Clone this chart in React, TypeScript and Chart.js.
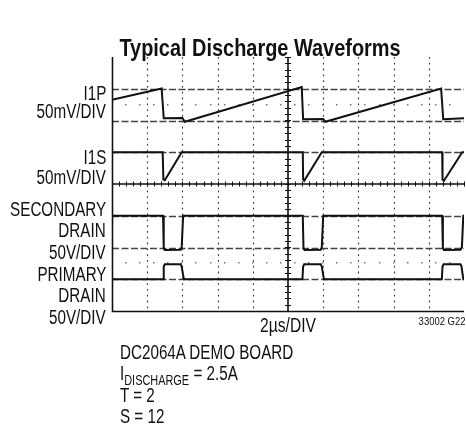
import React, { useEffect, useRef } from 'react';
import { Chart, registerables } from 'chart.js';

Chart.register(...registerables);

// time axis in µs (2 µs/DIV, 10 divisions), vertical in divisions (-4..4)
const i1pTime = [0, 2.82, 2.94, 4.0, 4.14, 10.78, 10.86, 12.0, 12.12, 18.7, 18.82, 20];
const i1pDiv = [2.65, 3.01, 2.07, 2.08, 1.96, 3.05, 2.04, 2.05, 1.96, 3.01, 2.04, 2.07];

const i1sTime = [0, 2.88, 2.92, 3.0, 3.96, 10.84, 10.86, 10.92, 11.92, 18.76, 18.78, 18.86, 19.9, 20];
const i1sDiv = [1.0, 1.0, 0.14, 0.12, 1.0, 1.0, 0.14, 0.1, 1.0, 1.0, 0.14, 0.1, 1.0, 1.0];

const secTime = [0, 2.9, 2.94, 3.0, 3.9, 3.96, 4.04, 10.84, 10.88, 10.94, 11.86, 11.92, 12.0, 18.76, 18.8, 18.86, 19.8, 19.88, 19.96, 20];
const secDiv = [-1, -1, -2.02, -2.08, -2.07, -2.0, -1, -1, -2.02, -2.08, -2.07, -2.0, -1, -1, -2.02, -2.08, -2.07, -2.0, -1, -1];

const priTime = [0, 2.9, 2.94, 3.0, 3.9, 3.96, 4.08, 10.82, 10.86, 10.92, 11.86, 11.92, 12.04, 18.74, 18.78, 18.84, 19.8, 19.86, 19.96, 20];
const priDiv = [-3, -3, -2.6, -2.53, -2.53, -2.6, -3, -3, -2.6, -2.53, -2.53, -2.6, -3, -3, -2.6, -2.53, -2.53, -2.6, -3, -3];

const dottedTimes = [2, 4, 6, 8, 12, 14, 16, 18];
const dashedDivs = [3, 2, 1, -1, -2, -3];
const dotRowDivs = [2.5, -2.5];

const leftLabels = ['I1P', '50mV/DIV', 'I1S', '50mV/DIV', 'SECONDARY', 'DRAIN', '50V/DIV', 'PRIMARY', 'DRAIN', '50V/DIV'];
const leftLabelY = [92.5, 110.5, 156.5, 177, 208.5, 230, 251.5, 273.5, 295, 317];

const FONT = "'Liberation Sans', Arial, sans-serif";
const NARROW = 0.78;

const zip = (t: number[], v: number[]) => t.map((x, i) => ({ x, y: v[i] }));

const gridPlugin = {
  id: 'scopeGrid',
  beforeDatasetsDraw(chart: any) {
    const { ctx, chartArea: a, scales } = chart;
    const xs = scales.x;
    const ys = scales.y;
    ctx.save();
    // dotted vertical divisions
    ctx.strokeStyle = '#444';
    ctx.lineWidth = 1.2;
    ctx.setLineDash([1.8, 4]);
    dottedTimes.forEach((t) => {
      const px = Math.round(xs.getPixelForValue(t)) + 0.5;
      ctx.beginPath();
      ctx.moveTo(px, a.top);
      ctx.lineTo(px, a.bottom);
      ctx.stroke();
    });
    // dashed horizontal divisions
    ctx.strokeStyle = '#444';
    ctx.lineWidth = 1.5;
    ctx.setLineDash([7, 2.5]);
    dashedDivs.forEach((d) => {
      const py = Math.round(ys.getPixelForValue(d)) + 0.5;
      ctx.beginPath();
      ctx.moveTo(a.left, py);
      ctx.lineTo(a.right, py);
      ctx.stroke();
    });
    // sparse dot rows
    ctx.setLineDash([]);
    ctx.fillStyle = '#777';
    dotRowDivs.forEach((d) => {
      const py = Math.round(ys.getPixelForValue(d));
      for (let t = 0.8; t < 20; t += 0.8) {
        const px = Math.round(xs.getPixelForValue(t));
        ctx.fillRect(px - 1, py - 1, 1.5, 1.5);
      }
    });
    // solid centre axes with minor ticks
    ctx.strokeStyle = '#111';
    ctx.lineWidth = 1.6;
    const cx = xs.getPixelForValue(10);
    const cy = ys.getPixelForValue(0);
    ctx.beginPath();
    ctx.moveTo(cx, a.top);
    ctx.lineTo(cx, a.bottom);
    ctx.moveTo(a.left, cy);
    ctx.lineTo(a.right, cy);
    ctx.stroke();
    ctx.lineWidth = 1;
    ctx.beginPath();
    for (let d = -4; d <= 4.001; d += 0.2) {
      const py = Math.round(ys.getPixelForValue(d)) + 0.5;
      ctx.moveTo(cx - 3, py);
      ctx.lineTo(cx + 3, py);
    }
    for (let t = 0; t <= 20.001; t += 0.4) {
      const px = Math.round(xs.getPixelForValue(t)) + 0.5;
      ctx.moveTo(px, cy - 2.5);
      ctx.lineTo(px, cy + 2.5);
    }
    ctx.stroke();
    // frame: left and bottom
    ctx.lineWidth = 1.6;
    ctx.beginPath();
    ctx.moveTo(a.left + 0.5, a.top);
    ctx.lineTo(a.left + 0.5, a.bottom + 0.5);
    ctx.lineTo(a.right, a.bottom + 0.5);
    ctx.stroke();
    ctx.restore();
  },
};

const traceStyle = {
  borderColor: '#111',
  borderWidth: 2,
  pointRadius: 0,
  tension: 0,
  fill: false,
};

export default function App() {
  const canvasRef = useRef<HTMLCanvasElement | null>(null);

  useEffect(() => {
    const canvas = canvasRef.current;
    if (!canvas) return;
    const chart = new Chart(canvas, {
      type: 'line',
      data: {
        datasets: [
          { label: 'I1P', data: zip(i1pTime, i1pDiv), ...traceStyle },
          { label: 'I1S', data: zip(i1sTime, i1sDiv), ...traceStyle },
          { label: 'Secondary drain', data: zip(secTime, secDiv), ...traceStyle },
          { label: 'Primary drain', data: zip(priTime, priDiv), ...traceStyle },
        ] as any,
      },
      options: {
        animation: false,
        responsive: false,
        devicePixelRatio: 1,
        events: [],
        layout: { padding: { left: 112, top: 57, right: 2, bottom: 115 } },
        plugins: {
          legend: { display: false },
          tooltip: { enabled: false },
          title: { display: false },
        },
        scales: {
          x: { type: 'linear', min: 0, max: 20, display: false },
          y: { type: 'linear', min: -4, max: 4, display: false },
        },
      },
      plugins: [gridPlugin],
    });
    return () => chart.destroy();
  }, []);

  const txt = (extra: React.CSSProperties): React.CSSProperties => ({
    position: 'absolute',
    fontFamily: FONT,
    color: '#111',
    whiteSpace: 'nowrap',
    ...extra,
  });

  return (
    <div style={{ position: 'fixed', left: 0, top: 0, width: 466, height: 426, background: '#fff', overflow: 'hidden' }}>
      <canvas ref={canvasRef} width={466} height={426} style={{ position: 'absolute', left: 0, top: 0 }} />
      <div
        style={txt({
          left: 0,
          width: 520,
          top: 34,
          textAlign: 'center',
          fontSize: 24,
          fontWeight: 'bold',
          lineHeight: '27px',
          transform: 'scaleX(0.83)',
          transformOrigin: '260px 0',
        })}
      >
        Typical Discharge Waveforms
      </div>
      {leftLabels.map((s, i) => (
        <div
          key={i}
          style={txt({
            right: 360,
            top: leftLabelY[i] - 11,
            fontSize: 19.5,
            lineHeight: '22px',
            textAlign: 'right',
            transform: `scaleX(${NARROW})`,
            transformOrigin: '100% 0',
          })}
        >
          {s}
        </div>
      ))}
      <div
        style={txt({
          left: 188,
          width: 200,
          top: 314,
          textAlign: 'center',
          fontSize: 20,
          lineHeight: '22px',
          transform: `scaleX(${NARROW})`,
          transformOrigin: '100px 0',
        })}
      >
        2µs/DIV
      </div>
      <div
        style={txt({ right: 1, top: 315, fontSize: 11, lineHeight: '12px', transform: 'scaleX(0.86)', transformOrigin: '100% 0' })}
      >
        33002 G22
      </div>
      {[
        { top: 341, content: <>DC2064A DEMO BOARD</> },
        {
          top: 362,
          content: (
            <>
              I<span style={{ fontSize: 14, position: 'relative', top: 5 }}>DISCHARGE</span> = 2.5A
            </>
          ),
        },
        { top: 383.5, content: <>T = 2</> },
        { top: 404.5, content: <>S = 12</> },
      ].map((l, i) => (
        <div
          key={i}
          style={txt({
            left: 120,
            top: l.top,
            fontSize: 19.5,
            lineHeight: '22px',
            transform: `scaleX(${NARROW})`,
            transformOrigin: '0 0',
          })}
        >
          {l.content}
        </div>
      ))}
    </div>
  );
}
